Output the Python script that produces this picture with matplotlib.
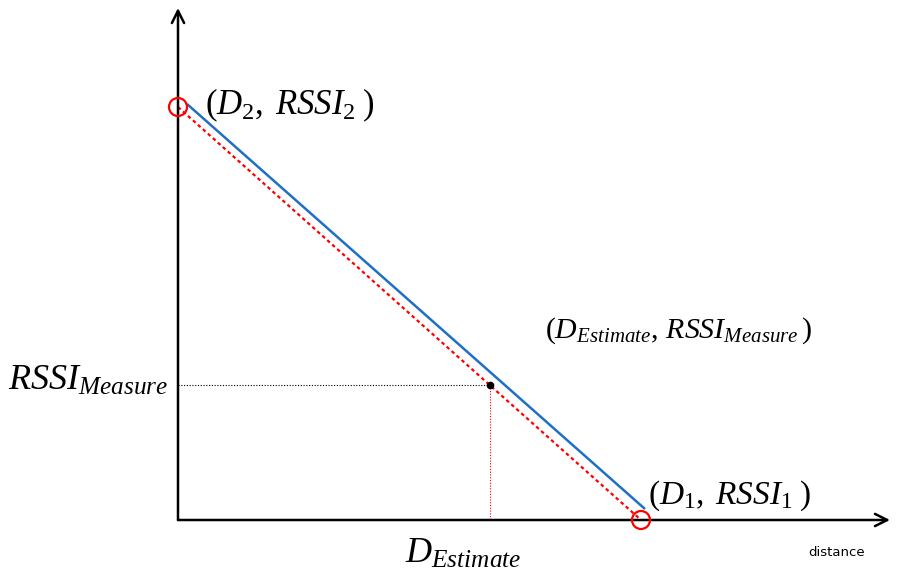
import matplotlib.pyplot as plt
from matplotlib.patches import Circle

plt.rcParams['mathtext.fontset'] = 'custom'
plt.rcParams['mathtext.rm'] = 'Liberation Serif'
plt.rcParams['mathtext.it'] = 'Liberation Serif:italic'

# reference points (distance, rssi) in arbitrary units, origin at the axes corner
D = [0.0, 4.63]          # D2, D1
RSSI = [4.13, 0.0]       # RSSI2, RSSI1
fit_D = [0.09, 4.67]     # blue fitted line, drawn just beside the red one
fit_RSSI = [4.16, 0.11]
D_est = 3.12
RSSI_meas = 1.35
x_end = 7.12
y_end = 5.12

fig = plt.figure(figsize=(9.02, 5.8), dpi=100)
ax = fig.add_axes([0, 0, 1, 1])
ax.set_xlim(-1.78, 7.24)
ax.set_ylim(-0.60, 5.20)
ax.axis('off')

# axes with open arrow heads
arr = dict(arrowstyle='->', lw=1.8, color='black', mutation_scale=22, shrinkA=0, shrinkB=0)
ax.annotate('', xy=(x_end, 0), xytext=(0, 0), arrowprops=arr)
ax.annotate('', xy=(0, y_end), xytext=(0, 0), arrowprops=arr)

ax.plot(fit_D, fit_RSSI, color='#1f6fc6', lw=1.8, solid_capstyle='butt')
ax.plot(D, RSSI, color='red', lw=1.6, ls=(0, (1.6, 1.4)))

ax.plot([0, D_est], [RSSI_meas, RSSI_meas], color='black', lw=0.8, ls=(0, (1, 1.5)))
ax.plot([D_est, D_est], [RSSI_meas, 0], color='red', lw=0.8, ls=(0, (1, 1.5)))
ax.plot([D_est], [RSSI_meas], 'o', color='black', ms=4.5)

for x, y in zip(D, RSSI):
    ax.add_patch(Circle((x, y), 0.09, fill=False, ec='red', lw=1.6, zorder=5))

ax.text(0.27, 4.15, r'$(D_2,\; RSSI_2\;)$', fontsize=25, va='center', ha='left')
ax.text(4.70, 0.24, r'$(D_1,\; RSSI_1\;)$', fontsize=24, va='center', ha='left')
ax.text(3.67, 1.89, r'$(D_{Estimate},\, RSSI_{Measure}\,)$', fontsize=21.5, va='center', ha='left')
ax.text(-1.70, 1.40, r'$RSSI_{Measure}$', fontsize=26, va='center', ha='left')
ax.text(2.27, -0.33, r'$D_{Estimate}$', fontsize=26, va='center', ha='left')
ax.text(6.30, -0.33, 'distance', fontsize=9.5, va='center', ha='left',
        family=['DejaVu Sans'])

plt.savefig('out.png', dpi=100)
